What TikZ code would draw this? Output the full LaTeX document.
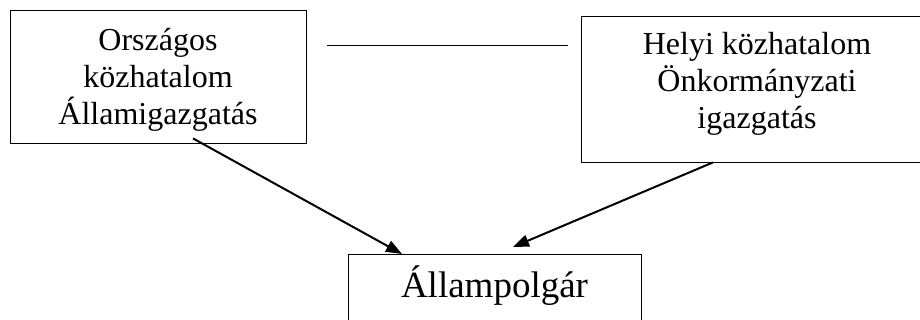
\documentclass[tikz,border=0pt]{standalone}
\usepackage{fontspec}
\setmainfont{Liberation Serif}
\usetikzlibrary{arrows.meta}

\begin{document}
\begin{tikzpicture}[x=1pt,y=-1pt,
  doboz/.style={draw,line width=0.8pt,inner sep=0pt},
  szoveg/.style={inner sep=0pt,align=center,font=\fontsize{32}{37}\selectfont},
  nyil/.style={line width=2pt,-{Triangle[length=16pt,width=12pt]}}]
  \useasboundingbox (0,0) rectangle (920,320);
  \clip (0,0) rectangle (920,320);
  \node[doboz,minimum width=296pt,minimum height=133pt] (orszagos) at (158,76.5) {};
  \node[szoveg] (orszagosszoveg) at ([shift={(0,3)}]orszagos.center)
    {Országos\\közhatalom\\Államigazgatás};
  \node[doboz,minimum width=352pt,minimum height=146pt] (helyi) at (757,89) {};
  \node[szoveg] (helyiszoveg) at ([shift={(0,-5)}]helyi.center)
    {Helyi közhatalom\\Önkormányzati\\igazgatás};
  \node[doboz,anchor=north,minimum width=293pt,text height=43pt,text depth=40pt,
    font=\fontsize{37}{44}\selectfont] (polgar) at (494.5,254) {Állampolgár};
  % vonal a ket doboz kozott
  \draw[line width=0.8pt] ([shift={(21,-31)}]orszagos.east)
    -- ([shift={(-13,-31)}]orszagos.east -| helyi.west);
  \draw[nyil] ([shift={(35,-5)}]orszagos.south) -- ([shift={(-92.5,0)}]polgar.north);
  \draw[nyil] ([shift={(-44,0)}]helyi.south) -- ([shift={(18.5,-7)}]polgar.north);
\end{tikzpicture}
\end{document}
